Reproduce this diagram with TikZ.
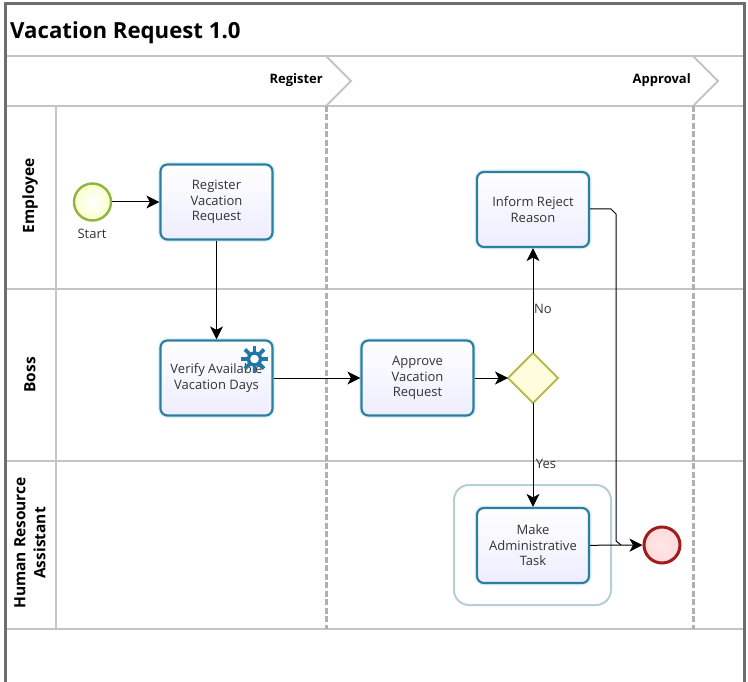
\documentclass[tikz,border=0pt]{standalone}
\usepackage{fontspec}
\setmainfont{Open Sans}
\usetikzlibrary{arrows.meta}
\definecolor{taskblue}{HTML}{2F7E9E}
\definecolor{gearblue}{HTML}{1F78A8}
\definecolor{framegray}{HTML}{6E6E6E}
\definecolor{lanegray}{HTML}{C4C4C4}
\definecolor{startgreen}{HTML}{8FB53F}
\definecolor{endred}{HTML}{A31B1B}
\definecolor{gateolive}{HTML}{B8B850}
\definecolor{groupteal}{HTML}{B5D0D4}

\begin{document}
\begin{tikzpicture}[x=1pt, y=-1pt, >={Stealth[length=13pt,width=13pt,inset=3.5pt]},
        lane/.style={draw=lanegray, line width=1.2pt},
        phase/.style={draw=lanegray, line width=2pt},
        phasesep/.style={draw=lanegray!90!black, line width=3pt, dash pattern=on 6pt off 2.5pt},
        task/.style={draw=taskblue, line width=2.2pt, rounded corners=7pt, top color=white,
                bottom color=blue!7, minimum width=112pt, minimum height=75pt, inner sep=0pt,
                preaction={draw=cyan!14, line width=5pt},
                align=center, text=black!80, font=\fontsize{13}{15.5}\selectfont},
        flow/.style={draw=black, line width=1pt},
        title/.style={inner sep=0pt, font=\fontsize{22.2}{26}\selectfont\bfseries},
        phaselabel/.style={inner sep=0pt, font=\fontsize{13}{15}\selectfont\bfseries},
        lanelabel/.style={inner sep=0pt, rotate=90, align=center, font=\fontsize{15.5}{20}\selectfont\bfseries},
        small/.style={inner sep=0pt, text=black!80, font=\fontsize{13}{15}\selectfont}]
        \useasboundingbox (0,0) rectangle (748,682);

        % lanes
        \draw[lane] (5,56) -- (744,56);
        \draw[lane] (5,106) -- (744,106);
        \draw[lane] (5,289) -- (744,289);
        \draw[lane] (5,461) -- (744,461);
        \draw[lane] (5,629) -- (744,629);
        \draw[lane] (56,106) -- (56,629);

        % phases
        \draw[phase] (326,56) -- (351,81) -- (326,106);
        \draw[phase] (693,56) -- (718,81) -- (693,106);
        \draw[phasesep] (326,106) -- (326,629);
        \draw[phasesep] (693,106) -- (693,629);
        \draw[framegray, line width=3pt] (5,682) -- (5,4) -- (744,4) -- (744,682);

        % texts
        \node[title, anchor=west] (heading) at (10,32.5) {Vacation Request 1.0};
        \node[phaselabel, anchor=east] (register) at (323,80) {Register};
        \node[phaselabel, anchor=east] (approval) at (691,80) {Approval};
        \node[lanelabel] (employee) at (30,196) {Employee};
        \node[lanelabel] (boss) at (30,375) {Boss};
        \node[lanelabel] (assistant) at (30,543) {Human Resource\\Assistant};

        % group
        \node[draw=groupteal, line width=2pt, rounded corners=15pt, minimum width=157pt,
                minimum height=120pt] (groupbox) at (532.5,545) {};

        % events, gateway, tasks
        \node[circle, draw=startgreen, line width=2.4pt, minimum size=37pt, inner sep=0pt,
                inner color=white, outer color=green!12!yellow!20] (start) at (92.5,202) {};
        \node[small] (startlabel) at (92,234) {Start};
        \node[task] (regreq) at (216.5,202) {Register\\Vacation\\Request};
        \node[task] (verify) at (216.5,378) {Verify Available\\Vacation Days};
        \node[task] (approve) at (417.5,378) {Approve\\Vacation\\Request};
        \node[task] (inform) at (533,209.5) {Inform Reject\\Reason};
        \node[task] (make) at (533,545.5) {Make\\Administrative\\Task};
        \draw[draw=gateolive, line width=2pt, fill=yellow!14]
                (533,353) coordinate (gtop) -- (558,378) coordinate (gright)
                -- (533,403) coordinate (gbottom) -- (508,378) coordinate (gleft) -- cycle;
        \node[circle, draw=endred, line width=3pt, minimum size=36pt, inner sep=0pt,
                inner color=white!90!red, outer color=red!14] (stop) at (662,545) {};

        % gear on the task
        \coordinate (gearhub) at (254.5,359);
        \foreach \a in {0,45,...,315}
                \draw[gearblue, line width=3.8pt] (gearhub) -- ++(\a:13.5);
        \node[circle, draw=gearblue, fill=white, line width=3.4pt, minimum size=12pt, inner sep=0pt] (gear) at (gearhub) {};

        % connectors
        \coordinate (rejectA) at (611,209);
        \coordinate (rejectB) at (616,214);
        \coordinate (rejectC) at (616,541);
        \coordinate (rejectD) at (621,545);
        \draw[flow, ->] (start) -- (regreq);
        \draw[flow, ->] (regreq) -- (verify);
        \draw[flow, ->] (verify) -- (approve);
        \draw[flow, ->] (approve) -- (gleft);
        \draw[flow, ->] (gtop) -- (inform);
        \draw[flow, ->] (gbottom) -- (make);
        \draw[flow, ->] (make) -- (stop);
        \draw[flow] (inform.east |- rejectA) -- (rejectA) -- (rejectB) -- (rejectC) -- (rejectD);

        \node[small] (nolabel) at (543,309) {No};
        \node[small] (yeslabel) at (546,464) {Yes};
\end{tikzpicture}
\end{document}
